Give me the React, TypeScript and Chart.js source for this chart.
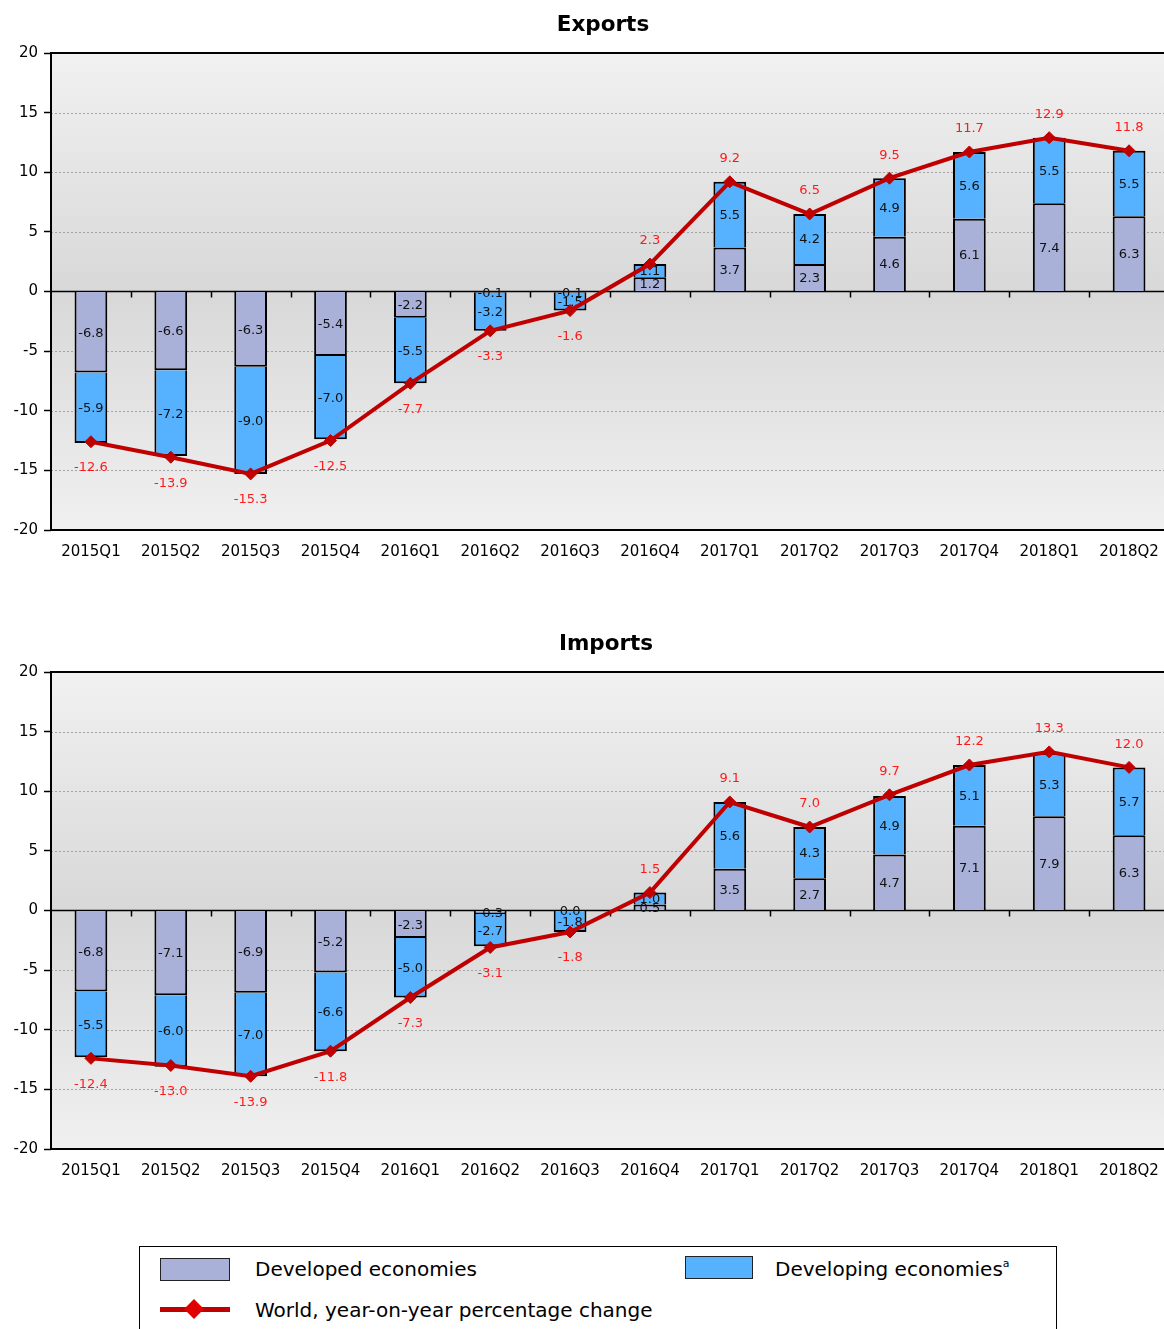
import React, { useEffect, useRef } from "react";
import { Chart, registerables } from "chart.js";

Chart.register(...registerables);

const categories = [
  "2015Q1", "2015Q2", "2015Q3", "2015Q4",
  "2016Q1", "2016Q2", "2016Q3", "2016Q4",
  "2017Q1", "2017Q2", "2017Q3", "2017Q4",
  "2018Q1", "2018Q2",
];

const exportsDeveloped = [-6.8, -6.6, -6.3, -5.4, -2.2, -0.1, -0.1, 1.2, 3.7, 2.3, 4.6, 6.1, 7.4, 6.3];
const exportsDeveloping = [-5.9, -7.2, -9.0, -7.0, -5.5, -3.2, -1.5, 1.1, 5.5, 4.2, 4.9, 5.6, 5.5, 5.5];
const exportsWorld = [-12.6, -13.9, -15.3, -12.5, -7.7, -3.3, -1.6, 2.3, 9.2, 6.5, 9.5, 11.7, 12.9, 11.8];

const importsDeveloped = [-6.8, -7.1, -6.9, -5.2, -2.3, -0.3, 0.0, 0.5, 3.5, 2.7, 4.7, 7.1, 7.9, 6.3];
const importsDeveloping = [-5.5, -6.0, -7.0, -6.6, -5.0, -2.7, -1.8, 1.0, 5.6, 4.3, 4.9, 5.1, 5.3, 5.7];
const importsWorld = [-12.4, -13.0, -13.9, -11.8, -7.3, -3.1, -1.8, 1.5, 9.1, 7.0, 9.7, 12.2, 13.3, 12.0];

const yTicks = [-20, -15, -10, -5, 0, 5, 10, 15, 20];

const FONT = "'DejaVu Sans', Verdana, sans-serif";
const DEVELOPED_COLOR = "#aab1d8";
const DEVELOPING_COLOR = "#56b2ff";
const WORLD_COLOR = "#c00000";

const decorPlugin = {
  id: "decor",
  beforeDraw(chart: any) {
    const { ctx, chartArea: a } = chart;
    const g = ctx.createLinearGradient(0, a.top, 0, a.bottom);
    g.addColorStop(0, "#f1f1f1");
    g.addColorStop(0.5, "#d8d8d8");
    g.addColorStop(1, "#f0f0f0");
    ctx.save();
    ctx.fillStyle = g;
    ctx.fillRect(a.left, a.top, a.right - a.left, a.bottom - a.top);
    ctx.restore();
  },
  beforeDatasetsDraw(chart: any) {
    const { ctx, chartArea: a, scales } = chart;
    const y = scales.y;
    const x = scales.x;
    ctx.save();
    ctx.strokeStyle = "#a4a4a4";
    ctx.lineWidth = 1;
    ctx.setLineDash([2, 2]);
    yTicks.forEach((v) => {
      if (v === 0 || v === -20 || v === 20) return;
      const py = Math.round(y.getPixelForValue(v)) + 0.5;
      ctx.beginPath();
      ctx.moveTo(a.left, py);
      ctx.lineTo(a.right, py);
      ctx.stroke();
    });
    ctx.setLineDash([]);
    const zy = y.getPixelForValue(0);
    ctx.strokeStyle = "#000";
    ctx.lineWidth = 1.5;
    ctx.beginPath();
    ctx.moveTo(a.left, zy);
    ctx.lineTo(a.right, zy);
    ctx.stroke();
    const n = categories.length;
    const step = (a.right - a.left) / n;
    for (let i = 1; i <= n; i++) {
      const px = Math.round(x.left + step * i) + 0.5;
      ctx.beginPath();
      ctx.moveTo(px, zy);
      ctx.lineTo(px, zy + 6);
      ctx.stroke();
    }
    ctx.lineWidth = 2;
    ctx.strokeRect(a.left, a.top, a.right - a.left, a.bottom - a.top);
    ctx.restore();
  },
  afterDatasetDraw(chart: any, args: any) {
    const { ctx } = chart;
    const meta = args.meta;
    const ds = chart.data.datasets[args.index];
    ctx.save();
    ctx.textAlign = "center";
    ctx.textBaseline = "middle";
    if (meta.type === "bar") {
      ctx.font = `13px ${FONT}`;
      ctx.fillStyle = "#111";
      meta.data.forEach((el: any, i: number) => {
        const p = el.getProps(["x", "y", "base"], true);
        const v = ds.data[i];
        ctx.fillText(v.toFixed(1), p.x, (p.y + p.base) / 2 + 1);
      });
    } else if (meta.type === "line") {
      ctx.font = `13px ${FONT}`;
      ctx.fillStyle = "#ff1a1a";
      meta.data.forEach((el: any, i: number) => {
        const p = el.getProps(["x", "y"], true);
        const v = ds.data[i];
        const ty = v >= 0 ? p.y - 23 : p.y + 26;
        ctx.fillText(v.toFixed(1), p.x, ty);
      });
    }
    ctx.restore();
  },
  afterDraw(chart: any, _args: any, opts: any) {
    const { ctx } = chart;
    ctx.save();
    ctx.font = `bold 21.5px ${FONT}`;
    ctx.fillStyle = "#000";
    ctx.textAlign = "center";
    ctx.textBaseline = "middle";
    ctx.fillText(opts.title, opts.titleX, opts.titleY);
    ctx.restore();
  },
};

function makeConfig(title: string, titleX: number, developed: number[], developing: number[], world: number[]): any {
  return {
    type: "bar",
    data: {
      labels: categories,
      datasets: [
        {
          type: "line",
          label: "World, year-on-year percentage change",
          data: world,
          borderColor: WORLD_COLOR,
          backgroundColor: WORLD_COLOR,
          borderWidth: 4,
          pointStyle: "rectRot",
          pointRadius: 6,
          pointBackgroundColor: WORLD_COLOR,
          pointBorderColor: WORLD_COLOR,
          pointBorderWidth: 1,
          stack: "w",
          order: 0,
          tension: 0,
        },
        {
          type: "bar",
          label: "Developed economies",
          data: developed,
          backgroundColor: DEVELOPED_COLOR,
          borderColor: "#000",
          borderWidth: 2,
          stack: "s",
          order: 1,
          barPercentage: 0.41,
          categoryPercentage: 1,
        },
        {
          type: "bar",
          label: "Developing economies",
          data: developing,
          backgroundColor: DEVELOPING_COLOR,
          borderColor: "#000",
          borderWidth: 2,
          stack: "s",
          order: 1,
          barPercentage: 0.41,
          categoryPercentage: 1,
        },
      ],
    },
    options: {
      responsive: false,
      animation: false,
      devicePixelRatio: 1,
      layout: { padding: { top: 53, left: 0, right: 0, bottom: 0 } },
      plugins: {
        legend: { display: false },
        tooltip: { enabled: false },
        title: { display: false },
        decor: { title, titleX, titleY: 25 },
      },
      scales: {
        x: {
          stacked: true,
          offset: true,
          grid: { display: false, drawTicks: false },
          border: { display: false },
          ticks: {
            color: "#000",
            font: { family: FONT, size: 15 },
            padding: 13,
            maxRotation: 0,
            autoSkip: false,
          },
          afterFit: (s: any) => {
            s.height = 50;
          },
        },
        y: {
          stacked: true,
          min: -20,
          max: 20,
          afterBuildTicks: (s: any) => {
            s.ticks = yTicks.map((v) => ({ value: v }));
          },
          grid: {
            drawOnChartArea: false,
            drawTicks: true,
            tickLength: 7,
            tickColor: "#000",
            tickWidth: 1.5,
            color: "#000",
          },
          border: { display: false },
          ticks: {
            color: "#000",
            font: { family: FONT, size: 15 },
            padding: 6,
          },
          afterFit: (s: any) => {
            s.width = 51;
          },
        },
      },
    },
    plugins: [decorPlugin],
  };
}

function ChartCanvas(props: { title: string; titleX: number; developed: number[]; developing: number[]; world: number[]; top: number }) {
  const ref = useRef<HTMLCanvasElement | null>(null);
  useEffect(() => {
    if (!ref.current) return;
    const chart = new Chart(ref.current, makeConfig(props.title, props.titleX, props.developed, props.developing, props.world));
    return () => chart.destroy();
  }, []);
  return (
    <canvas
      ref={ref}
      width={1176}
      height={580}
      style={{ position: "absolute", left: 0, top: props.top, width: 1176, height: 580 }}
    />
  );
}

export default function App() {
  const legendText: React.CSSProperties = {
    position: "absolute",
    fontFamily: FONT,
    fontSize: 20,
    color: "#000",
    lineHeight: "24px",
    whiteSpace: "nowrap",
  };
  return (
    <div
      style={{
        position: "absolute",
        left: 0,
        top: 0,
        width: 1164,
        height: 1329,
        overflow: "hidden",
        background: "#fff",
      }}
    >
      <ChartCanvas title="Exports" titleX={603} developed={exportsDeveloped} developing={exportsDeveloping} world={exportsWorld} top={0} />
      <ChartCanvas title="Imports" titleX={606} developed={importsDeveloped} developing={importsDeveloping} world={importsWorld} top={619} />
      <div
        style={{
          position: "absolute",
          left: 139,
          top: 1246,
          width: 916,
          height: 120,
          border: "1.5px solid #000",
        }}
      />
      <div style={{ position: "absolute", left: 160, top: 1258, width: 68, height: 21, background: DEVELOPED_COLOR, border: "1.5px solid #222" }} />
      <div style={{ ...legendText, left: 255, top: 1257 }}>Developed economies</div>
      <div style={{ position: "absolute", left: 685, top: 1256, width: 66, height: 21, background: DEVELOPING_COLOR, border: "1.5px solid #222" }} />
      <div style={{ ...legendText, left: 775, top: 1257 }}>
        Developing economies<sup style={{ fontSize: 11, verticalAlign: "top", lineHeight: "14px" }}>a</sup>
      </div>
      <div style={{ position: "absolute", left: 160, top: 1307, width: 70, height: 5, background: WORLD_COLOR }} />
      <div
        style={{
          position: "absolute",
          left: 187,
          top: 1302,
          width: 14,
          height: 14,
          background: "#e00000",
          transform: "rotate(45deg)",
        }}
      />
      <div style={{ ...legendText, left: 255, top: 1298 }}>World, year-on-year percentage change</div>
    </div>
  );
}
